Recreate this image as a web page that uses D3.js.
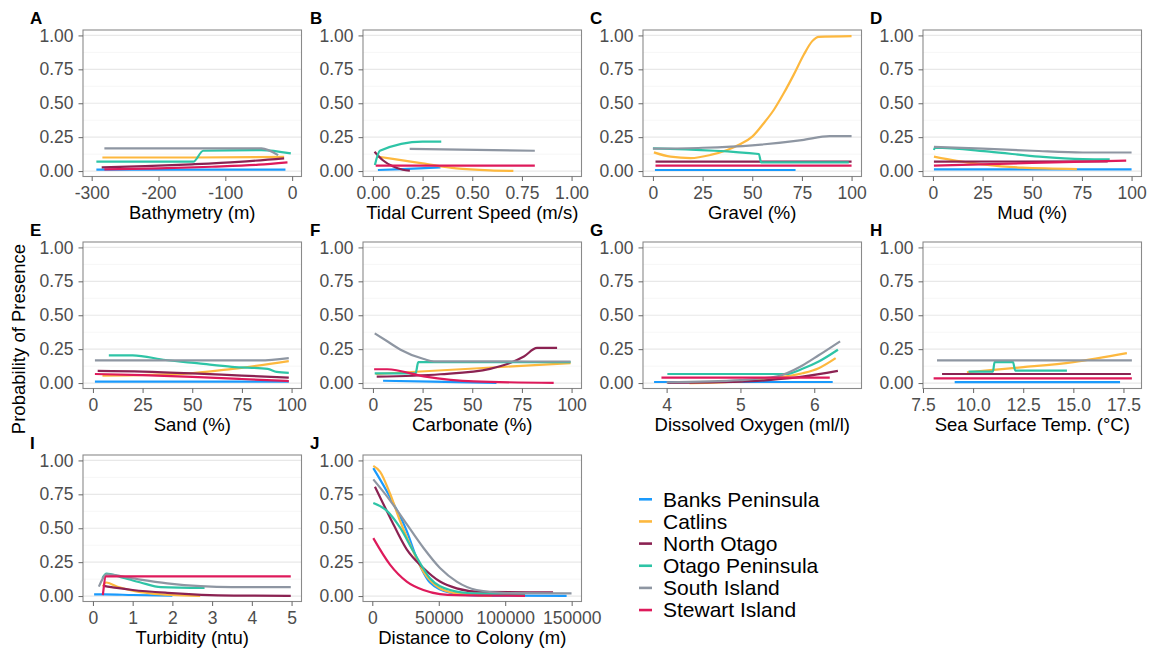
<!DOCTYPE html>
<html>
<head>
<meta charset="utf-8">
<script src="https://cdnjs.cloudflare.com/ajax/libs/d3/7.8.5/d3.min.js"></script>
<style>
  body { margin: 0; background: #fff; }
  svg { font-family: "Liberation Sans", Arial, Helvetica, sans-serif; }
</style>
</head>
<body>
<svg width="1153" height="650"></svg>
<script>
// sites, in legend / drawing order
var sites = ["Banks Peninsula", "Catlins", "North Otago", "Otago Peninsula", "South Island", "Stewart Island"];
var siteColors = ["#1a9afc", "#fdb83e", "#8b2252", "#2ec4a6", "#8e96a2", "#de1a5b"];

var panelLetters = ["A", "B", "C", "D", "E", "F", "G", "H", "I", "J"];
var panelTitles = ["Bathymetry (m)", "Tidal Current Speed (m/s)", "Gravel (%)", "Mud (%)", "Sand (%)",
  "Carbonate (%)", "Dissolved Oxygen (ml/l)", "Sea Surface Temp. (\u00B0C)", "Turbidity (ntu)", "Distance to Colony (m)"];
var panelTicks = [
  [-300, -200, -100, 0],
  [0, 0.25, 0.5, 0.75, 1],
  [0, 25, 50, 75, 100],
  [0, 25, 50, 75, 100],
  [0, 25, 50, 75, 100],
  [0, 25, 50, 75, 100],
  [4, 5, 6],
  [7.5, 10, 12.5, 15, 17.5],
  [0, 1, 2, 3, 4, 5],
  [0, 50000, 100000, 150000]
];
var panelFormats = ["d", ".2f", "d", "d", "d", "d", "d", ".1f", "d", "d"];
var panelDomains = [[-313, 14], [-0.05, 1.05], [-5, 105], [-5, 105], [-5, 105], [-5, 105],
  [3.68, 6.64], [7.5, 18.4], [-0.25, 5.25], [-7000, 157400]];
var yTicks = [0, 0.25, 0.5, 0.75, 1];
var yMinor = [0.125, 0.375, 0.625, 0.875];

// each panel: one [x, probability] list per site, same order as sites
var bathymetry = [
  [[-293, 0.01], [-10, 0.01]],
  [[-284, 0.1], [-150, 0.1], [-12, 0.105]],
  [[-285, 0.027], [-220, 0.036], [-150, 0.05], [-80, 0.068], [-12, 0.094]],
  [[-293, 0.069], [-148, 0.069], [-133, 0.15], [-46, 0.155], [-2, 0.13]],
  [[-281, 0.168], [-46, 0.168], [-21, 0.118]],
  [[-281, 0.013], [-200, 0.02], [-120, 0.032], [-50, 0.047], [-7, 0.064]]
];
var tidal = [
  [[0.025, 0.008], [0.15, 0.015], [0.34, 0.027]],
  [[0.025, 0.106], [0.1, 0.09], [0.25, 0.057], [0.42, 0.02], [0.59, 0.005], [0.707, 0.001]],
  [[0.008, 0.143], [0.05, 0.08], [0.1, 0.035], [0.15, 0.01], [0.186, 0.003]],
  [[0.01, 0.045], [0.035, 0.15], [0.25, 0.217], [0.344, 0.217]],
  [[0.185, 0.163], [0.815, 0.15]],
  [[0.014, 0.04], [0.815, 0.04]]
];
var gravel = [
  [[1, 0.008], [71.8, 0.008]],
  [[0.5, 0.138], [8.9, 0.106], [19, 0.096], [29, 0.119], [37.4, 0.156], [44.1, 0.2], [50, 0.254],
   [55.8, 0.353], [60.9, 0.452], [65.9, 0.575], [70.9, 0.711], [76, 0.859], [80.2, 0.958], [83.5, 0.99], [100, 0.995]],
  [[1.3, 0.069], [100, 0.069]],
  [[0, 0.168], [53.3, 0.126], [54.5, 0.064], [98.6, 0.064]],
  [[0, 0.165], [25, 0.172], [50, 0.19], [75, 0.228], [89, 0.258], [100, 0.258]],
  [[1.3, 0.04], [100, 0.04]]
];
var mud = [
  [[0.5, 0.012], [100, 0.012]],
  [[0.5, 0.106], [12, 0.075], [25, 0.05], [45, 0.025], [72.5, 0.015]],
  [[0.5, 0.069], [88, 0.072]],
  [[0.5, 0.155], [1, 0.172], [28.4, 0.143], [53.7, 0.106], [75.5, 0.088], [89, 0.086]],
  [[0.5, 0.178], [25, 0.165], [50, 0.15], [75.5, 0.137], [100, 0.137]],
  [[0.5, 0.04], [50, 0.06], [97.3, 0.077]]
];
var sand = [
  [[1, 0.01], [98.6, 0.01]],
  [[4.8, 0.055], [45.4, 0.068], [70.4, 0.105], [98.6, 0.162]],
  [[2.4, 0.09], [25, 0.085], [50, 0.072], [75, 0.055], [98.6, 0.04]],
  [[8, 0.204], [20, 0.204], [36.6, 0.17], [53.3, 0.145], [70, 0.12], [88, 0.105], [92.5, 0.082], [98.6, 0.075]],
  [[1, 0.167], [84, 0.167], [98.6, 0.184]],
  [[1, 0.067], [25, 0.058], [50, 0.045], [75, 0.03], [98.6, 0.015]]
];
var carbonate = [
  [[5.1, 0.017], [30, 0.01], [62.2, 0.002]],
  [[1.4, 0.067], [99.5, 0.147]],
  [[1.9, 0.047], [34, 0.065], [59, 0.105], [68, 0.142], [76, 0.196], [82.6, 0.259], [92.7, 0.259]],
  [[0.9, 0.072], [21.5, 0.072], [22.8, 0.154], [99.5, 0.154]],
  [[0.9, 0.366], [7.2, 0.308], [13.9, 0.246], [25.6, 0.177], [30.7, 0.16], [99.5, 0.159]],
  [[0.6, 0.102], [7.2, 0.102], [25.6, 0.05], [50.8, 0.012], [91, 0.002]]
];
var oxygen = [
  [[3.83, 0.008], [6.25, 0.008]],
  [[4.31, 0.0], [5.0, 0.015], [5.38, 0.035], [5.84, 0.072], [6.06, 0.11], [6.29, 0.184]],
  [[4.01, 0.002], [5.0, 0.01], [5.38, 0.022], [5.84, 0.047], [6.32, 0.09]],
  [[4.01, 0.067], [5.62, 0.067], [5.84, 0.105], [6.06, 0.159], [6.32, 0.246]],
  [[4.0, 0.005], [5.0, 0.022], [5.5, 0.05], [5.84, 0.13], [6.06, 0.205], [6.35, 0.308]],
  [[3.93, 0.04], [6.21, 0.04]]
];
var sst = [
  [[9.08, 0.007], [17.33, 0.007]],
  [[9.69, 0.08], [11, 0.097], [12.5, 0.117], [15, 0.155], [17.67, 0.221]],
  [[8.45, 0.067], [17.87, 0.067]],
  [[9.77, 0.084], [10.99, 0.084], [11.07, 0.154], [11.99, 0.154], [12.1, 0.092], [14.68, 0.092]],
  [[8.2, 0.167], [17.92, 0.167]],
  [[8.03, 0.035], [17.92, 0.035]]
];
var turbidity = [
  [[0.03, 0.012], [0.3, 0.012], [1, 0.008], [2, 0.004]],
  [[0.25, 0.07], [0.33, 0.1], [0.6, 0.07], [1.0, 0.04], [1.45, 0.02], [2.0, 0.008], [2.7, 0.002]],
  [[0.27, 0.075], [0.6, 0.06], [1.0, 0.045], [1.87, 0.024], [3.55, 0.004], [4.98, 0.002]],
  [[0.24, 0.132], [0.34, 0.165], [0.7, 0.14], [1.2, 0.1], [1.71, 0.066], [2.81, 0.06]],
  [[0.15, 0.07], [0.35, 0.16], [1.0, 0.13], [1.87, 0.094], [2.71, 0.073], [3.5, 0.066], [4.98, 0.066]],
  [[0.25, 0.007], [0.33, 0.145], [4.98, 0.145]]
];
var distance = [
  [[750, 0.943], [13300, 0.73], [25900, 0.48], [33400, 0.28], [43400, 0.1], [58500, 0.025], [80000, 0.004], [146200, 0.001]],
  [[750, 0.96], [5800, 0.918], [13300, 0.756], [20800, 0.556], [28400, 0.38], [38400, 0.18], [50900, 0.057], [63500, 0.02], [78500, 0.007], [90000, 0.003]],
  [[2000, 0.806], [13300, 0.58], [25900, 0.344], [38400, 0.207], [50900, 0.107], [63500, 0.057], [81000, 0.032], [136000, 0.027]],
  [[750, 0.686], [10800, 0.63], [20800, 0.506], [30900, 0.33], [43400, 0.132], [58500, 0.045], [76000, 0.02], [115000, 0.015]],
  [[750, 0.86], [13300, 0.706], [25900, 0.53], [38400, 0.356], [50900, 0.207], [63500, 0.107], [78500, 0.045], [101000, 0.022], [149900, 0.02]],
  [[750, 0.427], [13300, 0.232], [25900, 0.107], [38400, 0.045], [50900, 0.015], [63500, 0.007], [114900, 0.002]]
];
var panelData = [bathymetry, tidal, gravel, mud, sand, carbonate, oxygen, sst, turbidity, distance];

var svg = d3.select("svg");
var rowTops = [30, 242, 455];
var pw = 218.5, ph = 146.5;

panelData.forEach(function(series, i) {
  var col = i % 4, row = Math.floor(i / 4);
  var left = 83 + 280 * col, top = rowTops[row];

  var x = d3.scaleLinear().domain(panelDomains[i]).range([left, left + pw]);
  var y = d3.scaleLinear().domain([-0.04, 1.04]).range([top + ph, top]);

  var g = svg.append("g");

  // grid
  g.selectAll(".minor").data(yMinor).enter().append("line")
      .attr("x1", left).attr("x2", left + pw)
      .attr("y1", function(d) { return y(d); }).attr("y2", function(d) { return y(d); })
      .attr("stroke", "#f2f2f2").attr("stroke-width", 0.7);
  g.selectAll(".major").data(yTicks).enter().append("line")
      .attr("x1", left).attr("x2", left + pw)
      .attr("y1", function(d) { return y(d); }).attr("y2", function(d) { return y(d); })
      .attr("stroke", "#e8e8e8").attr("stroke-width", 1.2);

  var line = d3.line()
      .x(function(d) { return x(d[0]); })
      .y(function(d) { return y(d[1]); })
      .curve(d3.curveMonotoneX);

  g.selectAll(".site").data(series).enter().append("path")
      .attr("d", line)
      .attr("fill", "none")
      .attr("stroke", function(d, j) { return siteColors[j]; })
      .attr("stroke-width", 2.2);

  g.append("rect")
      .attr("x", left).attr("y", top).attr("width", pw).attr("height", ph)
      .attr("fill", "none").attr("stroke", "#8a8a8a").attr("stroke-width", 1.1);

  // R style labels use a plain hyphen for negatives
  var fmt = d3.format(panelFormats[i]);
  var yAxis = g.append("g").attr("transform", "translate(" + left + ",0)")
      .call(d3.axisLeft(y).tickValues(yTicks).tickFormat(d3.format(".2f")).tickSize(4.5).tickPadding(5));
  var xAxis = g.append("g").attr("transform", "translate(0," + (top + ph) + ")")
      .call(d3.axisBottom(x).tickValues(panelTicks[i])
        .tickFormat(function(d) { return fmt(d).replace("\u2212", "-"); })
        .tickSize(4.5).tickPadding(5.5));

  [yAxis, xAxis].forEach(function(ax) {
    ax.select(".domain").remove();
    ax.selectAll("line").attr("stroke", "#666");
    ax.selectAll("text").attr("fill", "#4d4d4d").style("font-size", "17.5px").style("font-family", null);
  });

  g.append("text")
      .attr("x", left + pw / 2).attr("y", top + ph + 42)
      .attr("text-anchor", "middle")
      .style("font-size", "18.5px")
      .text(panelTitles[i]);

  g.append("text")
      .attr("x", left - 53).attr("y", top - 6)
      .style("font-size", "17px").style("font-weight", "bold")
      .text(panelLetters[i]);
});

svg.append("text")
    .attr("transform", "translate(25,339) rotate(-90)")
    .attr("text-anchor", "middle")
    .style("font-size", "18.5px")
    .text("Probability of Presence");

// legend
var legend = svg.selectAll(".legend").data(sites).enter().append("g")
    .attr("transform", function(d, i) { return "translate(639," + (499.3 + 22.15 * i) + ")"; });
legend.append("line")
    .attr("x1", 0).attr("x2", 13)
    .attr("stroke", function(d, i) { return siteColors[i]; })
    .attr("stroke-width", 2.6);
legend.append("text")
    .attr("x", 24).attr("y", 7.4)
    .style("font-size", "21px")
    .text(function(d) { return d; });
</script>
</body>
</html>
